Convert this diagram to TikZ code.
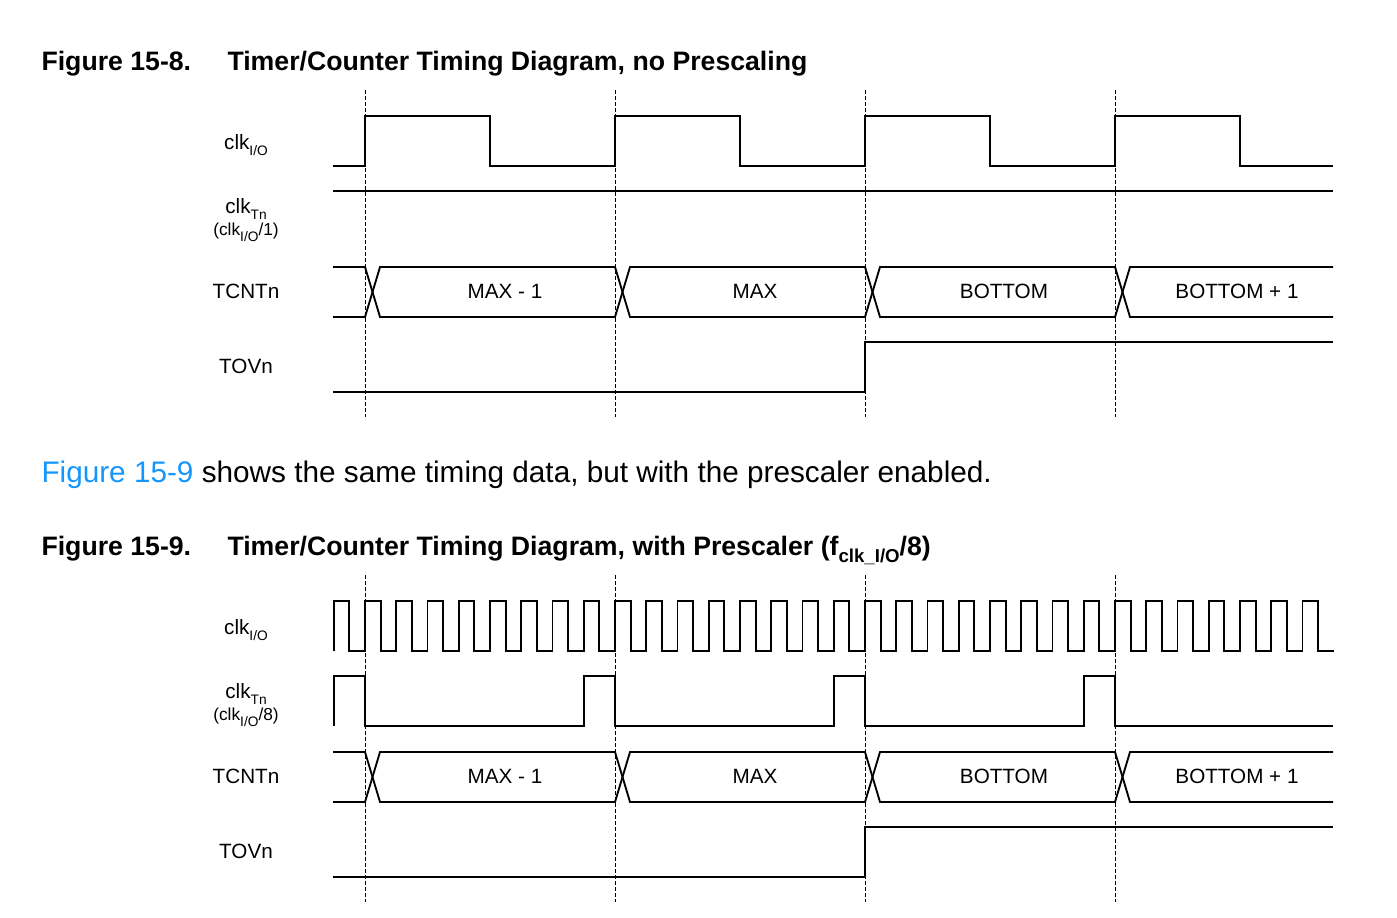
\documentclass[tikz,border=0pt]{standalone}
\usepackage{fontspec}
\setmainfont{Liberation Sans}
\definecolor{linkblue}{RGB}{20,150,255}
\newcommand{\lsub}[1]{\raisebox{-4.5pt}{\fontsize{10.3}{12}\selectfont #1}}
\newcommand{\tsub}[1]{\raisebox{-5.5pt}{\fontsize{14}{16}\selectfont\bfseries #1}}

\tikzset{every picture/.style={line width=0.75pt}}
\tikzset{
  sig/.style={line width=1.4, line join=miter},
  grid/.style={line width=0.75, dash pattern=on 3pt off 1.5pt},
  lbl/.style={anchor=base, inner sep=0.75pt, font=\fontsize{15.5}{17}\selectfont},
  lblsmall/.style={anchor=base, inner sep=0.75pt, font=\fontsize{13}{15}\selectfont},
  ttl/.style={anchor=base west, inner sep=0pt, font=\fontsize{20}{24}\selectfont\bfseries},
  body/.style={anchor=base west, inner sep=0pt, font=\fontsize{22.3}{26}\selectfont}
}

\begin{document}
\begin{tikzpicture}[x=0.75pt,y=0.75pt,yscale=-1,xscale=1]
\useasboundingbox (0,0) rectangle (1397,918);

% Titles and text
\node[ttl] (fig8num) at (41,70) {Figure 15-8.};
\node[ttl] (fig8ttl) at (227,70) {Timer/Counter Timing Diagram, no Prescaling};
\node[body] (para) at (41,482) {{\color{linkblue}Figure 15-9} shows the same timing data, but with the prescaler enabled.};
\node[ttl] (fig9num) at (41,555) {Figure 15-9.};
\node[ttl] (fig9ttl) at (227,555) {Timer/Counter Timing Diagram, with Prescaler (f\tsub{clk\_I/O}/8)};

%%%%% Figure 15-8 %%%%%
% Dashed lines
\foreach \t in {365,615,865,1115} \draw[grid] (\t,90) -- (\t,417);

% Signal names
\node[lbl] (clkioA) at (246,149) {clk\lsub{I/O}};
\node[lbl] (clktnA) at (246,213) {clk\lsub{Tn}};
\node[lblsmall] (divA) at (246,235) {(clk\lsub{I/O}/1)};
\node[lbl] (tcntA) at (246,298) {TCNTn};
\node[lbl] (tovA) at (246,373) {TOVn};

% clk I/O
\draw[sig] (333,166) \foreach \t in {365,615,865,1115} { -- (\t,166) -- (\t,116) -- (\t+125,116) -- (\t+125,166) } -- (1333,166);
% clk Tn
\draw[sig] (333,191) -- (1333,191);
% TCNTn
\draw[sig] (333,267) \foreach \t/\y/\z in {365/267/317,615/317/267,865/267/317,1115/317/267} { -- (\t,\y) -- (\t+15,\z) } -- (1333,267);
\draw[sig] (333,317) \foreach \t/\y/\z in {365/317/267,615/267/317,865/317/267,1115/267/317} { -- (\t,\y) -- (\t+15,\z) } -- (1333,317);
\node[lbl] (valA1) at (505,298) {MAX - 1};
\node[lbl] (valA2) at (755,298) {MAX};
\node[lbl] (valA3) at (1004,298) {BOTTOM};
\node[lbl] (valA4) at (1237,298) {BOTTOM + 1};
% TOVn
\draw[sig] (333,392) -- (865,392) -- (865,342) -- (1333,342);

%%%%% Figure 15-9 %%%%%
% Dashed lines
\foreach \t in {365,615,865,1115} \draw[grid] (\t,575) -- (\t,902);

% Signal names
\node[lbl] (clkioB) at (246,634) {clk\lsub{I/O}};
\node[lbl] (clktnB) at (246,698) {clk\lsub{Tn}};
\node[lblsmall] (divB) at (246,720) {(clk\lsub{I/O}/8)};
\node[lbl] (tcntB) at (246,783) {TCNTn};
\node[lbl] (tovB) at (246,858) {TOVn};

% clk I/O
\draw[sig] (333.75,651) \foreach \k in {0,...,31} { -- ({333.75+31.25*\k},601) -- ({349.375+31.25*\k},601) -- ({349.375+31.25*\k},651) -- ({365+31.25*\k},651) };
% clk Tn
\draw[sig] (333.75,726) -- (333.75,676) -- (365,676) -- (365,726) \foreach \t in {615,865,1115} { -- (\t-31.25,726) -- (\t-31.25,676) -- (\t,676) -- (\t,726) } -- (1333,726);
% TCNTn
\draw[sig] (333,752) \foreach \t/\y/\z in {365/752/802,615/802/752,865/752/802,1115/802/752} { -- (\t,\y) -- (\t+15,\z) } -- (1333,752);
\draw[sig] (333,802) \foreach \t/\y/\z in {365/802/752,615/752/802,865/802/752,1115/752/802} { -- (\t,\y) -- (\t+15,\z) } -- (1333,802);
\node[lbl] (valB1) at (505,783) {MAX - 1};
\node[lbl] (valB2) at (755,783) {MAX};
\node[lbl] (valB3) at (1004,783) {BOTTOM};
\node[lbl] (valB4) at (1237,783) {BOTTOM + 1};
% TOVn
\draw[sig] (333,877) -- (865,877) -- (865,827) -- (1333,827);

\end{tikzpicture}
\end{document}
